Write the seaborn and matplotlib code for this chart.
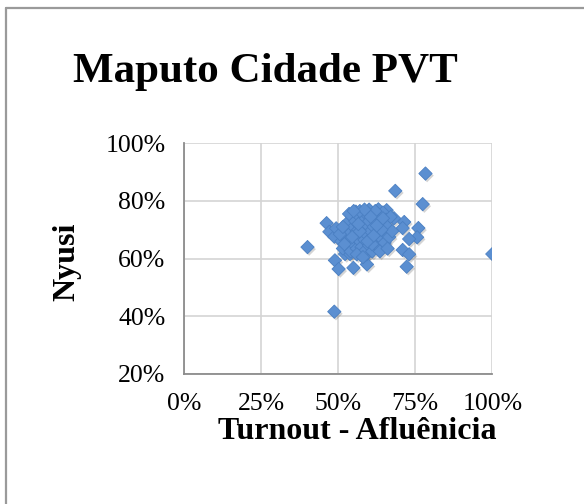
import pandas as pd
import matplotlib.pyplot as plt
import matplotlib.patheffects as pe
from matplotlib.ticker import PercentFormatter
from matplotlib.lines import Line2D
import seaborn as sns

# Turnout (x) and Nyusi share (y), in percent
turnout = [40.0, 48.7, 100.0, 78.3, 68.5, 77.4, 46.2, 47.1, 48.7, 49.3,
           48.9, 50.1, 54.9, 59.3, 52.2, 53.8, 59.2, 71.4, 70.9, 76.0,
           75.6, 73.0, 70.9, 73.0, 72.2, 68.1, 65.7, 63.0, 59.7, 55.7,
           51.0, 51.5, 52.0, 52.5, 53.0, 53.0, 53.5, 54.0, 54.0, 54.5,
           55.0, 55.0, 55.5, 55.5, 56.0, 56.0, 56.5, 57.0, 57.0, 57.5,
           57.5, 58.0, 58.0, 58.5, 58.5, 59.0, 59.0, 59.5, 60.0, 60.0,
           60.5, 60.5, 61.0, 61.0, 61.5, 62.0, 62.0, 62.5, 63.0, 63.0,
           63.5, 64.0, 64.0, 64.5, 65.0, 65.0, 65.5, 66.0, 66.5, 67.0,
           57.0, 60.0, 62.0, 53.5, 56.0, 58.0, 61.0, 63.5, 66.0, 67.5,
           52.0, 54.5, 57.0, 59.5, 61.5, 64.0, 56.5, 60.5, 50.5, 51.5,
           62.5, 58.5, 55.0, 64.5]
nyusi = [64.0, 41.6, 61.6, 89.5, 83.5, 78.9, 72.3, 69.3, 67.6, 70.5,
         59.4, 56.4, 56.8, 58.0, 61.6, 61.6, 61.5, 72.7, 70.6, 70.6,
         67.4, 66.8, 63.0, 61.5, 57.2, 74.0, 76.8, 77.1, 75.7, 76.3,
         66.0, 63.5, 68.0, 70.5, 64.5, 72.5, 66.5, 69.0, 62.5, 74.5,
         71.0, 65.0, 67.5, 73.0, 63.5, 69.5, 75.0, 66.0, 71.5, 68.0,
         64.0, 73.5, 70.0, 62.5, 66.5, 75.5, 68.5, 71.5, 64.5, 73.0,
         67.0, 69.5, 75.5, 62.5, 71.0, 66.0, 73.5, 68.5, 64.0, 75.0,
         70.5, 67.0, 72.5, 76.0, 69.0, 65.5, 73.5, 71.0, 67.5, 74.5,
         76.5, 77.0, 76.5, 75.5, 61.5, 60.5, 65.0, 62.5, 63.5, 69.5,
         65.0, 67.5, 69.5, 66.0, 68.0, 70.0, 72.0, 74.5, 68.5, 71.0,
         71.5, 77.0, 76.5, 74.0]

df = pd.DataFrame({"turnout": [v / 100 for v in turnout],
                   "nyusi": [v / 100 for v in nyusi]})

sns.set_theme(style="white")
plt.rcParams["font.family"] = ["Liberation Serif", "DejaVu Serif"]
plt.rcParams["text.color"] = "black"
plt.rcParams["axes.labelcolor"] = "black"

fig = plt.figure(figsize=(5.84, 5.04), dpi=100)
ax = fig.add_axes([0.3156, 0.258, 0.5274, 0.4577])

sns.scatterplot(data=df, x="turnout", y="nyusi", ax=ax, marker="D",
                s=46, color="#5b8fd1", edgecolor="#4a7fc2",
                linewidth=0.6, zorder=3)
ax.collections[0].set_path_effects([
    pe.SimplePatchShadow(offset=(1.2, -1.5), alpha=0.25, shadow_rgbFace="#555555"),
    pe.Normal()])

ax.set_xlim(0, 1)
ax.set_ylim(0.2, 1.0)
ax.set_xticks([0, 0.25, 0.5, 0.75, 1.0])
ax.set_yticks([0.2, 0.4, 0.6, 0.8, 1.0])
ax.xaxis.set_major_formatter(PercentFormatter(1.0, decimals=0))
ax.yaxis.set_major_formatter(PercentFormatter(1.0, decimals=0))
ax.grid(True, color="#d4d4d4", linewidth=1.2)
ax.set_axisbelow(True)
for side in ["top", "right"]:
    ax.spines[side].set_visible(False)
for side in ["left", "bottom"]:
    ax.spines[side].set_color("#8c8c8c")
    ax.spines[side].set_linewidth(1.3)
ax.tick_params(direction="inout", length=7, width=1.2, color="#8c8c8c",
               labelsize=18.5, labelcolor="black")
ax.tick_params(axis="y", pad=10)
ax.tick_params(axis="x", pad=10)

ax.set_xlabel("Turnout - Afluênicia", fontsize=23, fontweight="bold")
ax.set_ylabel("Nyusi", fontsize=23, fontweight="bold")
ax.xaxis.set_label_coords(0.56, -0.185)
ax.yaxis.set_label_coords(-0.335, 0.485)
fig.text(0.454, 0.858, "Maputo Cidade PVT", ha="center", va="center",
         fontsize=31, fontweight="bold")

# outer chart-area border (left and top edges)
fig.add_artist(Line2D([6 / 584, 6 / 584], [0, 1 - 8 / 504], transform=fig.transFigure,
                      color="#9a9a9a", linewidth=1.6))
fig.add_artist(Line2D([6 / 584, 1], [1 - 8 / 504, 1 - 8 / 504], transform=fig.transFigure,
                      color="#9a9a9a", linewidth=1.6))

fig.savefig("out.png", dpi=100)
